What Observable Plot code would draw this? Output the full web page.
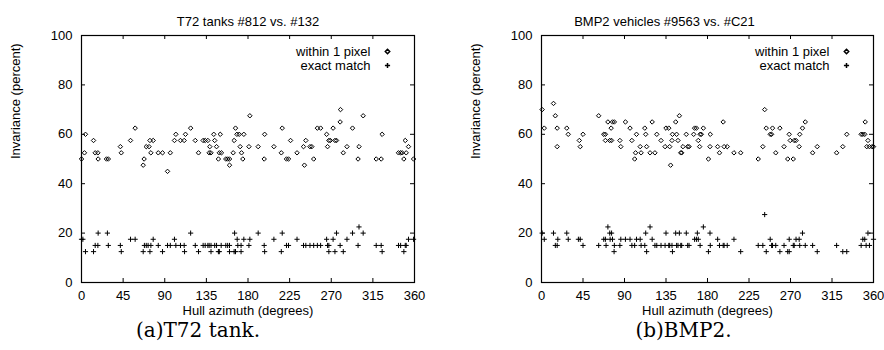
<!DOCTYPE html>
<html>
<head>
<meta charset="utf-8">
<script src="https://cdn.jsdelivr.net/npm/d3@7"></script>
<script src="https://cdn.jsdelivr.net/npm/@observablehq/plot@0.6"></script>
<style>
  html, body { margin: 0; padding: 0; background: #fff; }
  #wrap { display: flex; width: 884px; height: 350px; }
  #wrap svg { font-family: "Liberation Sans", Arial, Helvetica, sans-serif; }
</style>
</head>
<body>
<div id="wrap"></div>
<script>
// ---- data ----
const xTicks = [0, 45, 90, 135, 180, 225, 270, 315, 360];
const yTicks = [0, 20, 40, 60, 80, 100];
const seriesNames = ["within 1 pixel", "exact match"];

const t72WithinAz = [0,3.2,4.3,13,14.8,17.7,18,27,29,42,43,53,58,66.7,67.7,70,73,74,77.5,75,83,87.6,93,96,100.5,102,107,111,112.4,118,123,126.5,131.5,133.7,136.6,138,140,138.7,143,144,146,148,149,151.3,150,156,158,160,160,164,165,166.5,168,170.5,171.5,173,174.4,175.5,181,182,191,197.5,198,208,216,217,221.6,223.8,226,233,240,241,242.5,247,249,251,255,258.5,265,266,267.4,269,272,274,275.7,279.6,280,283,287,293,299,300,304.5,318.6,324,325,342.7,345,346.7,348.5,350,351,353.5,359];
const t72WithinPct = [50,52.5,60,57.5,52.5,52.5,50,50,50,55,52.5,57.5,62.5,47.5,50,55,55,57.5,57.5,52.5,52.5,52.5,45,52.5,57.5,60,57.5,57.5,60,62.5,57.5,52.5,57.5,57.5,57.5,52.5,52.5,55,60,57.5,55,50,52.5,52.5,60,50,50,50,47.5,52.5,57.5,62.5,60,60,55,52.5,50,60,55,67.5,55,50,60,55,52.5,62.5,50,50,57.5,52.5,55,47.5,57.5,55,55,50,62.5,62.5,60,55,57.5,57.5,62.5,57.5,57.5,65,70,52.5,55,62.5,50,55,67.5,50,50,60,52.5,52.5,52.5,50,57.5,52.5,55,50];

const t72ExactAz = [0,1.5,4.3,13,14.8,17.7,18,28,29,42,43,53,58,66.7,68,70,72,74,75,77.5,83,87.6,93,96,100.5,102,107,111,111.4,118,123,126.5,131.5,133.7,136.6,138,140,140,144,146,148,149,151,156,158,160,160,165,166.5,172.5,165.5,168.3,169,172.5,175.5,181,182,191,197.5,198,208,216,217,221.6,223.8,233,240,242.5,247,251,255,258.5,265,266,267.4,267.4,272,274,275.7,279.6,283,287,293,299,300,304.5,318.6,324,325,342.7,345,348.5,350,351,353.5,359];
const t72ExactPct = [17.5,17.5,12.5,12.5,15,15,20,20,15,15,12.5,17.5,17.5,12.5,15,15,15,12.5,15,17.5,15,12.5,15,15,17.5,15,15,15,12.5,20,15,12.5,15,15,15,15,15,12.5,15,15,12.5,12.5,15,15,15,15,12.5,12.5,12.5,12.5,20,17.5,15,15,17.5,15,17.5,20,15,12.5,17.5,12.5,20,15,15,17.5,15,15,15,15,15,15,17.5,15,15,12.5,17.5,12.5,20,15,12.5,17.5,20,15,22.5,20,15,15,12.5,15,15,12.5,15,15,17.5,17.5];

const bmpWithinAz = [0.7,3,13,15,17,17,27.4,29,41,42,45,62,67.5,69.3,69.3,72,74,76,75.5,77,79,85,86,91,96,98,101,102,103,107,108,112,113,114,117.7,120,123,125,129.6,134,135,138,139,140,141.5,142,145.5,146.5,149.5,148,151,152,153.4,157,158.5,160,165,166,168,170,171.5,172,173.3,175.5,181,182.7,183,191,193,197,198,201.4,208.7,216,235,240,242,243.7,248,249.5,250.5,254,258.5,263,267,268.6,269.7,273,274,276,279.4,280,283,286,294,299,320,326.7,331,346.6,348.4,350.5,351,352.7,354,355.6,358.5,360];
const bmpWithinPct = [70,62.5,72.5,67.5,62.5,55,62.5,60,57.5,55,60,67.5,60,60,57.5,65,57.5,57.5,62.5,65,65,57.5,55,65,62.5,57.5,50,52.5,60,55,52.5,62.5,60,55,52.5,65,52.5,60,57.5,55,62.5,62.5,55,47.5,57.5,60,65,60,67.5,57.5,52.5,52.5,55,60,55,55,60,62.5,62.5,57.5,55,60,60,62.5,50,55,60,55,52.5,65,55,55,52.5,52.5,50,55,70,62.5,60,60,62.5,52.5,62.5,55,50,60,57.5,50,57.5,57.5,55,60,62.5,65,52.5,55,52.5,55,60,60,60,60,65,55,57.5,55,55,55];

const bmpExactAz = [0.7,3,13,15,17,17.7,27.4,29,40,42,45,62,67.5,69.3,70,72,74,76,74.4,77,78.7,79,85,86,91,96,98,101,103,107,108,112,113,114,117.7,120,123,125,129.6,134,138,139,141.5,135,142,145.5,149.5,146.5,148,151,152,157,158.5,160,166,168,170,169,172,175.5,181,182.7,183,191,193,197,198,201.4,208.7,216,235,240,242,243.7,248,249.5,250.5,254,258.5,263,267,268.6,268.6,273,274,276,279.4,280,286,283,294,299,320,326.7,331,346.6,348.4,350.5,352,355.6,354,360];
const bmpExactPct = [20,17.5,20,15,15,17.5,20,17.5,17.5,17.5,15,15,17.5,17.5,15,22.5,20,20,17.5,17.5,12.5,15,15,17.5,17.5,17.5,15,15,17.5,17.5,15,15,20,12.5,22.5,17.5,15,15,15,15,15,15,15,20,12.5,20,20,15,15,15,15,20,15,15,17.5,17.5,17.5,20,15,22.5,12.5,20,15,17.5,15,15,15,15,17.5,12.5,15,15,27.5,12.5,17.5,15,15,15,12.5,15,12.5,12.5,17.5,15,15,17.5,17.5,15,15,20,15,12.5,15,12.5,12.5,15,17.5,17.5,15,15,20,17.5];

const panels = [
  {title: "T72 tanks #812 vs. #132", caption: "(a)T72 tank.",
   wAz: t72WithinAz, wPct: t72WithinPct, eAz: t72ExactAz, ePct: t72ExactPct,
   mL: 81, mR: 28, titleDx: 0, capDx: -50},
  {title: "BMP2 vehicles #9563 vs. #C21", caption: "(b)BMP2.",
   wAz: bmpWithinAz, wPct: bmpWithinPct, eAz: bmpExactAz, ePct: bmpExactPct,
   mL: 99, mR: 11, titleDx: -43, capDx: -24}
];

const W = 442, H = 350, mT = 35, mB = 68;
const plotH = H - mT - mB;
const tick = 4;

for (const p of panels) {
  const within = p.wAz.map((a, i) => ({az: a, pct: p.wPct[i]}));
  const exact = p.eAz.map((a, i) => ({az: a, pct: p.ePct[i]}));
  const plotW = W - p.mL - p.mR;
  const chart = Plot.plot({
    width: W, height: H,
    marginTop: mT, marginBottom: mB, marginLeft: p.mL, marginRight: p.mR,
    style: {fontFamily: "'Liberation Sans', Arial, Helvetica, sans-serif", fontSize: "13px", color: "#000", background: "#fff"},
    x: {domain: [0, 360]},
    y: {domain: [0, 100]},
    marks: [
      Plot.axisX({ticks: xTicks, tickSize: 0, tickPadding: 8, label: null, fontSize: 13}),
      Plot.axisY({ticks: yTicks, tickSize: 0, tickPadding: 9, label: null, fontSize: 13}),
      // inward ticks on all four sides
      Plot.ruleX(xTicks, {x: d => d, insetTop: plotH - tick, stroke: "#000"}),
      Plot.ruleX(xTicks, {x: d => d, insetBottom: plotH - tick, stroke: "#000"}),
      Plot.ruleY(yTicks, {y: d => d, insetRight: plotW - tick, stroke: "#000"}),
      Plot.ruleY(yTicks, {y: d => d, insetLeft: plotW - tick, stroke: "#000"}),
      Plot.frame({stroke: "#000", strokeWidth: 1.2}),
      Plot.dot(within, {x: "az", y: "pct", symbol: "diamond2", r: 2, stroke: "#000", strokeWidth: 1, fill: "none"}),
      Plot.dot(exact, {x: "az", y: "pct", symbol: "plus", r: 1.8, stroke: "#000", strokeWidth: 1}),
      // legend
      Plot.text([seriesNames[0]], {text: d => d, frameAnchor: "top-right", dx: -44, dy: 16, textAnchor: "end", lineAnchor: "middle", fontSize: 13}),
      Plot.text([seriesNames[1]], {text: d => d, frameAnchor: "top-right", dx: -44, dy: 30, textAnchor: "end", lineAnchor: "middle", fontSize: 13}),
      Plot.dot([seriesNames[0]], {frameAnchor: "top-right", dx: -27, dy: 16, symbol: "diamond2", r: 2, stroke: "#000", fill: "none"}),
      Plot.dot([seriesNames[1]], {frameAnchor: "top-right", dx: -27, dy: 30, symbol: "plus", r: 1.8, stroke: "#000"}),
      // titles and labels
      Plot.text([p.title], {text: d => d, frameAnchor: "top", dx: p.titleDx, dy: -14, lineAnchor: "middle", fontSize: 13}),
      Plot.text(["Hull azimuth (degrees)"], {text: d => d, frameAnchor: "bottom", dy: 28, lineAnchor: "middle", fontSize: 13}),
      Plot.text(["Invariance (percent)"], {text: d => d, frameAnchor: "left", dx: -66, rotate: -90, lineAnchor: "middle", fontSize: 13}),
      Plot.text([p.caption], {text: d => d, frameAnchor: "bottom", dx: p.capDx, dy: 48, lineAnchor: "middle", fontSize: 20, fontFamily: "'DejaVu Serif', 'Liberation Serif', serif"})
    ]
  });
  document.getElementById("wrap").appendChild(chart);
}
</script>
</body>
</html>
